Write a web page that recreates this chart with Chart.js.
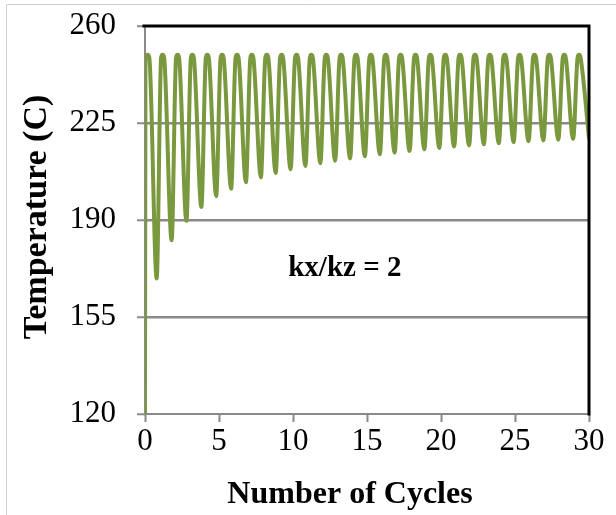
<!DOCTYPE html>
<html>
<head>
<meta charset="utf-8">
<script src="https://cdn.jsdelivr.net/npm/chart.js@4.4.0/dist/chart.umd.min.js"></script>
<style>
  html, body { margin: 0; padding: 0; background: #ffffff; }
  #wrap { position: relative; width: 616px; height: 515px; }
  canvas { display: block; }
</style>
</head>
<body>
<div id="wrap"><canvas id="chart" width="616" height="515"></canvas></div>
<script>
// Thermal cycling history: time (in cycles) and temperature (C).
// Each cycle: fast heat-up to the hold temperature, then cool-down to a trough
// that rises from cycle to cycle as the part warms up.
const cycleTime = [
  0.00, 0.03, 0.17, 0.29, 0.79,
  1.09, 1.19, 1.29, 1.80,
  2.10, 2.20, 2.30, 2.80,
  3.10, 3.20, 3.30, 3.81,
  4.11, 4.21, 4.31, 4.81,
  5.11, 5.21, 5.31, 5.82,
  6.12, 6.22, 6.32, 6.82,
  7.12, 7.22, 7.32, 7.83,
  8.13, 8.23, 8.33, 8.83,
  9.13, 9.23, 9.33, 9.84,
  10.14, 10.24, 10.34, 10.84,
  11.14, 11.24, 11.34, 11.85,
  12.15, 12.25, 12.35, 12.85,
  13.15, 13.25, 13.35, 13.86,
  14.16, 14.26, 14.36, 14.86,
  15.16, 15.26, 15.36, 15.87,
  16.17, 16.27, 16.37, 16.87,
  17.17, 17.27, 17.37, 17.88,
  18.18, 18.28, 18.38, 18.88,
  19.18, 19.28, 19.38, 19.89,
  20.19, 20.29, 20.39, 20.89,
  21.19, 21.29, 21.39, 21.90,
  22.20, 22.30, 22.40, 22.90,
  23.20, 23.30, 23.40, 23.91,
  24.21, 24.31, 24.41, 24.91,
  25.21, 25.31, 25.41, 25.92,
  26.22, 26.32, 26.42, 26.92,
  27.22, 27.32, 27.42, 27.93,
  28.23, 28.33, 28.43, 28.93,
  29.23, 29.33, 29.43, 30.00
];
const temperature = [
  120.0, 247.6, 249.6, 248.6, 168.9,
  248.6, 249.6, 248.6, 182.7,
  248.6, 249.6, 248.6, 189.7,
  248.6, 249.6, 248.6, 194.7,
  248.6, 249.6, 248.6, 198.6,
  248.6, 249.6, 248.6, 201.3,
  248.6, 249.6, 248.6, 203.6,
  248.6, 249.6, 248.6, 205.4,
  248.6, 249.6, 248.6, 207.0,
  248.6, 249.6, 248.6, 208.3,
  248.6, 249.6, 248.6, 209.5,
  248.6, 249.6, 248.6, 210.5,
  248.6, 249.6, 248.6, 211.4,
  248.6, 249.6, 248.6, 212.2,
  248.6, 249.6, 248.6, 213.0,
  248.6, 249.6, 248.6, 213.7,
  248.6, 249.6, 248.6, 214.3,
  248.6, 249.6, 248.6, 214.9,
  248.6, 249.6, 248.6, 215.5,
  248.6, 249.6, 248.6, 216.0,
  248.6, 249.6, 248.6, 216.5,
  248.6, 249.6, 248.6, 216.9,
  248.6, 249.6, 248.6, 217.3,
  248.6, 249.6, 248.6, 217.7,
  248.6, 249.6, 248.6, 218.1,
  248.6, 249.6, 248.6, 218.4,
  248.6, 249.6, 248.6, 218.7,
  248.6, 249.6, 248.6, 219.0,
  248.6, 249.6, 248.6, 219.3,
  248.6, 249.6, 248.6, 219.6
];

const xTickValues = [0, 5, 10, 15, 20, 25, 30];
const yTickValues = [120, 155, 190, 225, 260];
const gridValues = [155, 190, 225];

const xTitle = 'Number of Cycles';
const yTitle = 'Temperature (C)';
const noteText = 'kx/kz = 2';
const notePos = { x: 13.5, y: 172.4 };

const points = cycleTime.map((t, i) => ({ x: t, y: temperature[i] }));

const SERIF = '"Liberation Serif", "Times New Roman", serif';
const AXIS_GRAY = '#8a8a8a';

// Light outer frame, black top/right plot edges, axis titles and the in-plot note.
const decorations = {
  id: 'decorations',
  beforeDraw(chart) {
    const ctx = chart.ctx;
    ctx.save();
    ctx.fillStyle = '#ffffff';
    ctx.fillRect(0, 0, chart.width, chart.height);
    ctx.strokeStyle = '#d0d0d0';
    ctx.lineWidth = 1;
    ctx.beginPath();
    ctx.moveTo(6.5, chart.height);
    ctx.lineTo(6.5, 4.5);
    ctx.lineTo(chart.width, 4.5);
    ctx.stroke();
    ctx.restore();
  },
  afterDatasetsDraw(chart) {
    const { ctx, chartArea: a, scales } = chart;
    ctx.save();
    ctx.strokeStyle = '#000000';
    ctx.lineWidth = 3;
    ctx.lineCap = 'square';
    ctx.beginPath();
    ctx.moveTo(a.left - 1, a.top);
    ctx.lineTo(a.right, a.top);
    ctx.lineTo(a.right, a.bottom);
    ctx.stroke();

    ctx.fillStyle = '#000000';
    ctx.textAlign = 'center';
    ctx.textBaseline = 'middle';

    ctx.font = 'bold 29px ' + SERIF;
    ctx.fillText(noteText, scales.x.getPixelForValue(notePos.x), scales.y.getPixelForValue(notePos.y));

    ctx.font = 'bold 32px ' + SERIF;
    ctx.fillText(xTitle, 350, 495);

    ctx.translate(37, 217);
    ctx.rotate(-Math.PI / 2);
    ctx.font = 'bold 34px ' + SERIF;
    ctx.fillText(yTitle, 0, 0);
    ctx.restore();
  }
};

new Chart(document.getElementById('chart'), {
  type: 'line',
  data: {
    datasets: [{
      data: points,
      borderColor: '#7a983e',
      borderWidth: 4,
      pointRadius: 0,
      fill: false,
      cubicInterpolationMode: 'monotone',
      borderJoinStyle: 'round',
      borderCapStyle: 'round'
    }]
  },
  options: {
    responsive: false,
    animation: false,
    devicePixelRatio: 1,
    layout: { padding: { left: 6, right: 27, top: 26, bottom: 0 } },
    plugins: { legend: { display: false }, tooltip: { enabled: false } },
    scales: {
      x: {
        type: 'linear',
        min: 0,
        max: 30,
        afterBuildTicks(scale) { scale.ticks = xTickValues.map(v => ({ value: v })); },
        afterFit(scale) {
          scale.height = 101;
          scale.paddingLeft = 0;
          scale.paddingRight = 0;
        },
        grid: { drawOnChartArea: false, drawTicks: true, tickLength: 8, tickColor: AXIS_GRAY, tickWidth: 2 },
        border: { display: true, color: AXIS_GRAY, width: 2 },
        ticks: { color: '#000000', font: { family: SERIF, size: 31 }, padding: 1, maxRotation: 0 }
      },
      y: {
        type: 'linear',
        min: 120,
        max: 260,
        afterBuildTicks(scale) { scale.ticks = yTickValues.map(v => ({ value: v })); },
        afterFit(scale) {
          scale.width = 139;
          scale.paddingTop = 0;
          scale.paddingBottom = 0;
        },
        grid: {
          drawOnChartArea: true,
          drawTicks: true,
          tickLength: 8,
          tickColor: AXIS_GRAY,
          tickWidth: 2,
          lineWidth: 2.5,
          color: ctx => (ctx.tick && gridValues.includes(ctx.tick.value)) ? AXIS_GRAY : 'rgba(0,0,0,0)'
        },
        border: { display: true, color: AXIS_GRAY, width: 2 },
        ticks: { color: '#000000', font: { family: SERIF, size: 31 }, padding: 21 }
      }
    }
  },
  plugins: [decorations]
});
</script>
</body>
</html>
